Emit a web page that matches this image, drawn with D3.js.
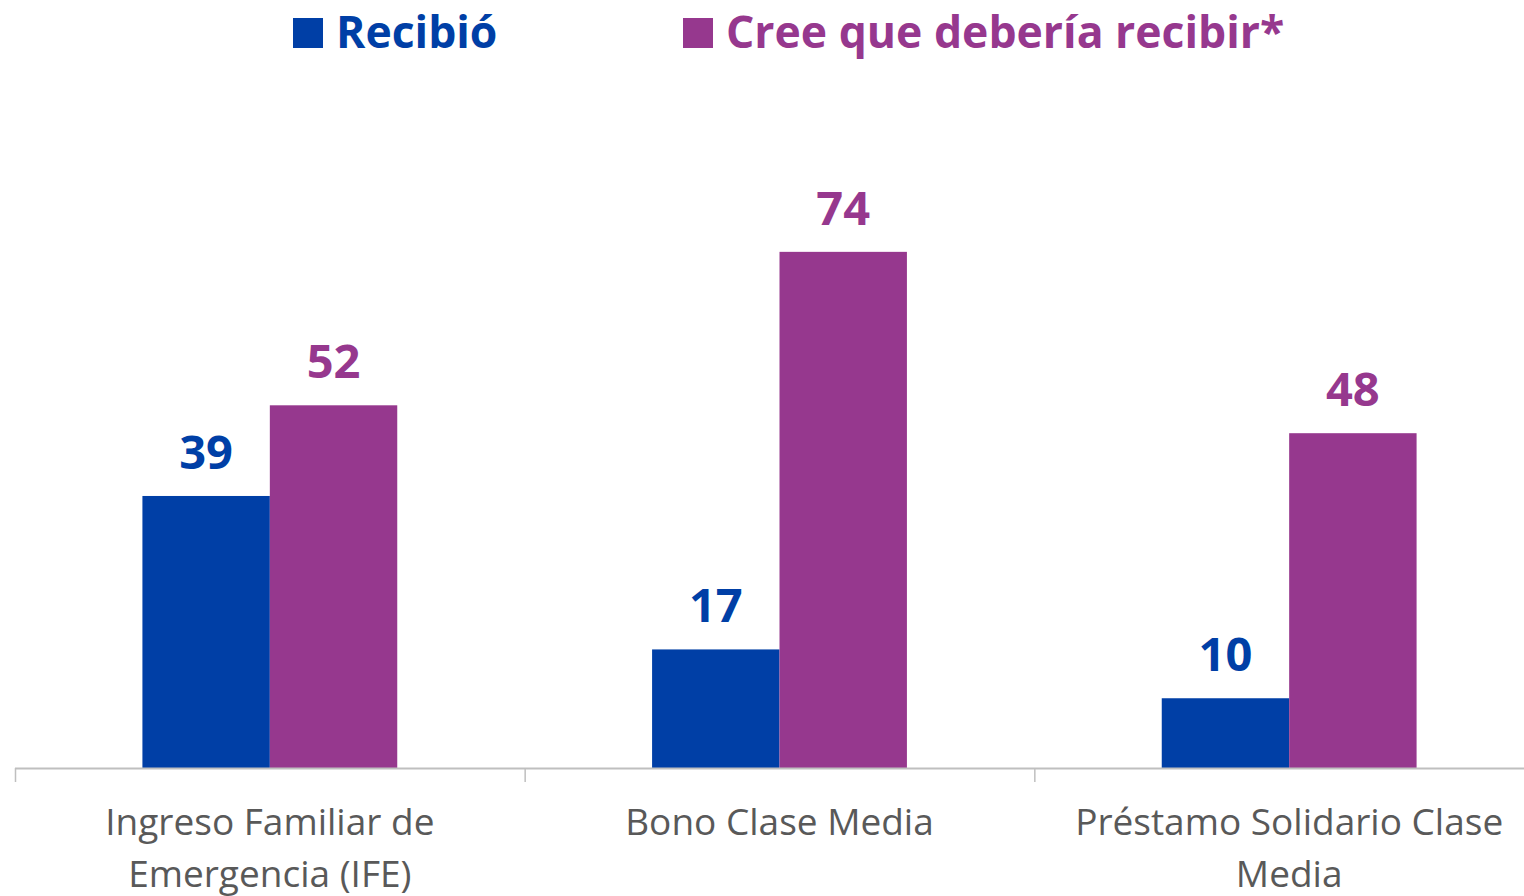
<!DOCTYPE html>
<html>
<head>
<meta charset="utf-8">
<script src="https://cdn.jsdelivr.net/npm/d3@7"></script>
<style>
	body { margin: 0; background: #fff; overflow: hidden; }
	svg { display: block; font-family: "Open Sans", sans-serif; }
</style>
</head>
<body>
<div id="chart"></div>
<script>
// data
let categories = ['Ingreso Familiar de Emergencia (IFE)', 'Bono Clase Media', 'Préstamo Solidario Clase Media']
let seriesNames = ['Recibió', 'Cree que debería recibir*']
let recibio = [39, 17, 10]
let deberia = [52, 74, 48]
let seriesColors = ['#003FA6', '#96388E']

// the plot area runs a little past the right edge of the picture
let dimensions = {width: 1524, height: 896, margin: {left: 15, right: -20, top: 210, bottom: 128}}
let plotBottom = dimensions.height - dimensions.margin.bottom

let rows = categories.map((c, i) => ({cat: c, values: [recibio[i], deberia[i]]}))

let svg = d3.select('#chart')
	.append('svg')
	.attr('width', dimensions.width)
	.attr('height', dimensions.height)

let x0 = d3.scaleBand()
	.domain(categories)
	.range([dimensions.margin.left, dimensions.width - dimensions.margin.right])
	.padding(0)

let x1 = d3.scaleBand()
	.domain(seriesNames)
	.range([0, x0.bandwidth()])
	.paddingInner(0)
	.paddingOuter(1)

let y = d3.scaleLinear()
	.domain([0, 80])
	.range([plotBottom, dimensions.margin.top])

// bars
let groups = svg.selectAll('g.grp')
	.data(rows)
	.enter()
		.append('g')
		.classed('grp', true)
		.attr('transform', d => `translate(${x0(d.cat)},0)`)

groups.selectAll('rect')
	.data(d => d.values.map((v, j) => ({key: seriesNames[j], v: v, j: j})))
	.enter()
		.append('rect')
		.attr('x', d => x1(d.key))
		.attr('y', d => y(d.v))
		.attr('width', x1.bandwidth())
		.attr('height', d => plotBottom - y(d.v))
		.attr('fill', d => seriesColors[d.j])

groups.selectAll('text.val')
	.data(d => d.values.map((v, j) => ({key: seriesNames[j], v: v, j: j})))
	.enter()
		.append('text')
		.classed('val', true)
		.attr('x', d => x1(d.key) + x1.bandwidth() / 2)
		.attr('y', d => y(d.v) - 27)
		.attr('text-anchor', 'middle')
		.attr('font-size', 47)
		.attr('font-weight', 700)
		.attr('fill', d => seriesColors[d.j])
		.text(d => d.v)

// axis line and boundary ticks
let axis = svg.append('g').classed('xAxis', true)
axis.append('line')
	.attr('x1', x0.range()[0]).attr('x2', x0.range()[1])
	.attr('y1', plotBottom + 0.5).attr('y2', plotBottom + 0.5)
	.attr('stroke', '#BFBFBF').attr('stroke-width', 2)

let tickPos = categories.map(c => x0(c)).concat([x0.range()[1]])
axis.selectAll('line.tick')
	.data(tickPos)
	.enter()
		.append('line')
		.classed('tick', true)
		.attr('x1', d => d + 0.5).attr('x2', d => d + 0.5)
		.attr('y1', plotBottom).attr('y2', plotBottom + 14)
		.attr('stroke', '#BFBFBF').attr('stroke-width', 1.5)

// category labels, wrapped
let labels = axis.selectAll('text.cat')
	.data(categories)
	.enter()
		.append('text')
		.classed('cat', true)
		.attr('x', d => x0(d) + x0.bandwidth() / 2)
		.attr('y', 835)
		.attr('text-anchor', 'middle')
		.attr('font-size', 37)
		.attr('fill', '#595959')
		.text(d => d)

labels.each(function(d) {
	wrap(d3.select(this), 460, 52)
})

function wrap(text, width, lineHeight) {
	let words = text.text().split(/\s+/)
	let xx = text.attr('x')
	text.text(null)
	let line = []
	let tspan = text.append('tspan').attr('x', xx).attr('dy', 0)
	words.forEach(w => {
		line.push(w)
		tspan.text(line.join(' '))
		if (tspan.node().getComputedTextLength() > width && line.length > 1) {
			line.pop()
			tspan.text(line.join(' '))
			line = [w]
			tspan = text.append('tspan').attr('x', xx).attr('dy', lineHeight).text(w)
		}
	})
}

// legend
let legendX = [293, 683]
let legend = svg.selectAll('g.leg')
	.data(seriesNames)
	.enter()
		.append('g')
		.classed('leg', true)
		.attr('transform', (d, i) => `translate(${legendX[i]},0)`)

legend.append('rect')
	.attr('x', 0).attr('y', 18)
	.attr('width', 30).attr('height', 30)
	.attr('fill', (d, i) => seriesColors[i])

legend.append('text')
	.attr('x', 43).attr('y', 48)
	.attr('font-size', 44.5)
	.attr('font-weight', 700)
	.attr('fill', (d, i) => seriesColors[i])
	.text(d => d)
</script>
</body>
</html>
